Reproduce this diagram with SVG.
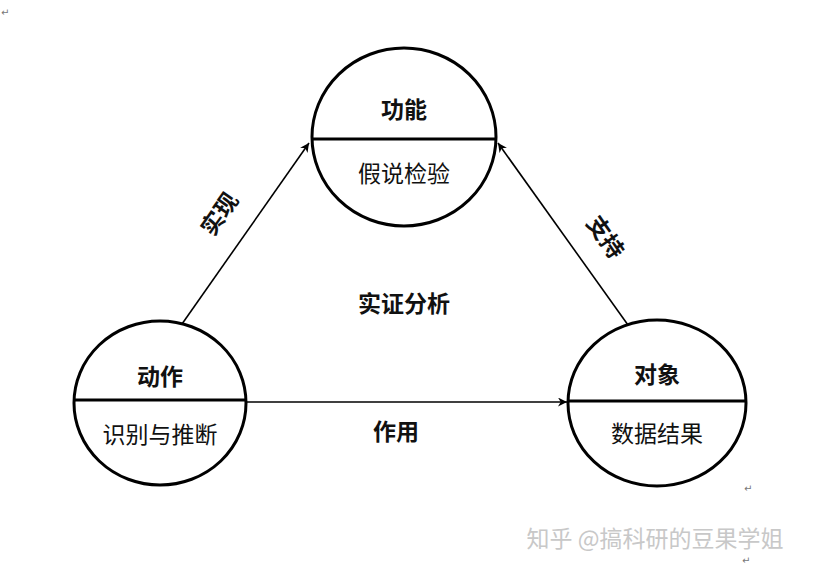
<svg xmlns="http://www.w3.org/2000/svg" width="816" height="571" viewBox="0 0 816 571">
<style>
.node{fill:#fff;stroke:#000;stroke-width:3}
.div{stroke:#000;stroke-width:3}
.t{font-family:"Noto Sans CJK SC","Noto Sans",sans-serif;font-size:23px;fill:#111;text-anchor:middle;dominant-baseline:central}
.b{font-weight:bold}
.c{stroke:#000;stroke-width:1.6;fill:none}
.wm{font-family:"Noto Sans CJK SC","Noto Sans",sans-serif;font-size:23px;fill:#c8c8c8;text-anchor:middle;dominant-baseline:central}
.ret{font-family:"DejaVu Sans",sans-serif;font-size:10px;fill:#777}
</style>
<defs>
<marker id="ah" viewBox="0 0 10 10" refX="10" refY="5" markerWidth="9" markerHeight="9" markerUnits="userSpaceOnUse" orient="auto">
<path d="M0,0 L10,5 L0,10 L3,5 Z" fill="#000"/>
</marker>
</defs>
<rect width="816" height="571" fill="#fff"/>
<g id="connectors">
<line class="c" x1="182" y1="324" x2="309" y2="143" marker-end="url(#ah)"/>
<line class="c" x1="628" y1="325" x2="498" y2="143" marker-end="url(#ah)"/>
<line class="c" x1="247" y1="402" x2="567" y2="402" marker-end="url(#ah)"/>
<text class="t b" transform="translate(218,213) rotate(-55)">实现</text>
<text class="t b" transform="translate(607,236) rotate(55)">支持</text>
<text class="t b" x="396" y="430">作用</text>
</g>
<g id="function">
<ellipse class="node" cx="404" cy="137" rx="92" ry="89"/>
<line class="div" x1="313" y1="139" x2="495" y2="139"/>
<text class="t b" x="404" y="108">功能</text>
<text class="t" x="404" y="172">假说检验</text>
</g>
<g id="action">
<ellipse class="node" cx="160" cy="403" rx="86" ry="82"/>
<line class="div" x1="74" y1="400" x2="246" y2="400"/>
<text class="t b" x="160" y="375">动作</text>
<text class="t" x="160" y="433">识别与推断</text>
</g>
<g id="object">
<ellipse class="node" cx="657" cy="403" rx="89" ry="83"/>
<line class="div" x1="569" y1="401" x2="745" y2="401"/>
<text class="t b" x="657" y="373">对象</text>
<text class="t" x="657" y="432">数据结果</text>
</g>
<g id="center">
<text class="t b" x="404" y="302">实证分析</text>
</g>
<g id="marks">
<text class="ret" x="1" y="16">↵</text>
<text class="ret" x="744" y="492">↵</text>
<text class="ret" x="742" y="564">↵</text>
<text class="wm" x="655" y="537">知乎 @搞科研的豆果学姐</text>
</g>
</svg>
